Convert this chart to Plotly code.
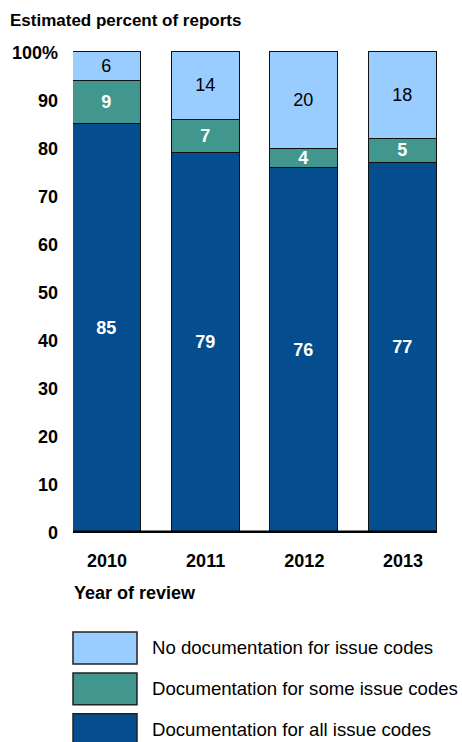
import plotly.graph_objects as go

# Data
years = ["2010", "2011", "2012", "2013"]
all_docs = [85, 79, 76, 77]
some_docs = [9, 7, 4, 5]
no_docs = [6, 14, 20, 18]

series_names = [
    "Documentation for all issue codes",
    "Documentation for some issue codes",
    "No documentation for issue codes",
]
y_tick_vals = [0, 10, 20, 30, 40, 50, 60, 70, 80, 90, 100]
y_tick_text = ["0", "10", "20", "30", "40", "50", "60", "70", "80", "90", "100%"]

COL_ALL = "#044E8F"
COL_SOME = "#41978D"
COL_NONE = "#99CCFF"
FONT = "Liberation Sans, Arial, sans-serif"

W, H = 462, 742
M_L, M_R = 73, 25
Y_TOP_RANGE = 100.5
PLOT_BOTTOM_PX = 533
PX_PER_UNIT = (533 - 52) / 100.0
PLOT_TOP_PX = PLOT_BOTTOM_PX - Y_TOP_RANGE * PX_PER_UNIT
PLOT_H = PLOT_BOTTOM_PX - PLOT_TOP_PX
PLOT_W = W - M_L - M_R


def px_x(px):
    return (px - M_L) / PLOT_W


def px_y(py):
    return (PLOT_BOTTOM_PX - py) / PLOT_H


BAR_W = 0.687
line = dict(color="#111111", width=1.5)
LABEL_SIZE = 18

fig = go.Figure()
fig.add_trace(go.Bar(
    x=years, y=all_docs, name=series_names[0], width=BAR_W,
    marker=dict(color=COL_ALL, line=line),
    text=all_docs, textposition="inside", insidetextanchor="middle", textangle=0,
    textfont=dict(family=FONT, size=LABEL_SIZE, color="white", weight="bold"),
))
fig.add_trace(go.Bar(
    x=years, y=some_docs, name=series_names[1], width=BAR_W,
    marker=dict(color=COL_SOME, line=line),
    text=some_docs, textposition="inside", insidetextanchor="middle", textangle=0,
    textfont=dict(family=FONT, size=LABEL_SIZE, color="white", weight="bold"),
))
fig.add_trace(go.Bar(
    x=years, y=no_docs, name=series_names[2], width=BAR_W,
    marker=dict(color=COL_NONE, line=line),
    text=no_docs, textposition="inside", insidetextanchor="middle", textangle=0,
    textfont=dict(family=FONT, size=LABEL_SIZE, color="black"),
))

# Thick baseline along zero
fig.add_shape(type="line", xref="paper", yref="y", x0=0, x1=1, y0=0, y1=0,
              line=dict(color="black", width=5), layer="above")

annotations = [
    dict(text="<b>Estimated percent of reports</b>", xref="paper", yref="paper",
         x=px_x(8), y=px_y(20), xanchor="left", yanchor="middle", showarrow=False,
         font=dict(family=FONT, size=17, color="black")),
    dict(text="<b>Year of review</b>", xref="paper", yref="paper",
         x=px_x(72), y=px_y(593), xanchor="left", yanchor="middle", showarrow=False,
         font=dict(family=FONT, size=18, color="black")),
]

# Legend drawn as large swatches with labels
legend_items = [
    (series_names[2], COL_NONE, 632),
    (series_names[1], COL_SOME, 673),
    (series_names[0], COL_ALL, 714),
]
for label, col, top in legend_items:
    fig.add_shape(type="rect", xref="paper", yref="paper",
                  x0=px_x(73), x1=px_x(137), y0=px_y(top), y1=px_y(top + 32),
                  fillcolor=col, line=dict(color="#222222", width=1.5))
    annotations.append(dict(text=label, xref="paper", yref="paper",
                            x=px_x(150), y=px_y(top + 16), xanchor="left", yanchor="middle",
                            showarrow=False, font=dict(family=FONT, size=18.6, color="black")))

fig.update_layout(
    width=W, height=H,
    margin=dict(l=M_L, r=M_R, t=PLOT_TOP_PX, b=H - PLOT_BOTTOM_PX, pad=0),
    barmode="stack", bargap=0,
    plot_bgcolor="white", paper_bgcolor="white",
    showlegend=False,
    uniformtext=dict(minsize=LABEL_SIZE, mode="show"),
    font=dict(family=FONT, color="black"),
    annotations=annotations,
    xaxis=dict(range=[-BAR_W / 2, 3 + BAR_W / 2], showgrid=False, zeroline=False,
               showline=False, ticks="", ticklabelstandoff=15,
               tickfont=dict(family=FONT, size=18, color="black", weight="bold")),
    yaxis=dict(range=[0, Y_TOP_RANGE], tickvals=y_tick_vals, ticktext=y_tick_text,
               showgrid=False, zeroline=False, showline=False, ticks="",
               ticklabelstandoff=14,
               tickfont=dict(family=FONT, size=18, color="black", weight="bold")),
)

fig.write_html("out.html")
